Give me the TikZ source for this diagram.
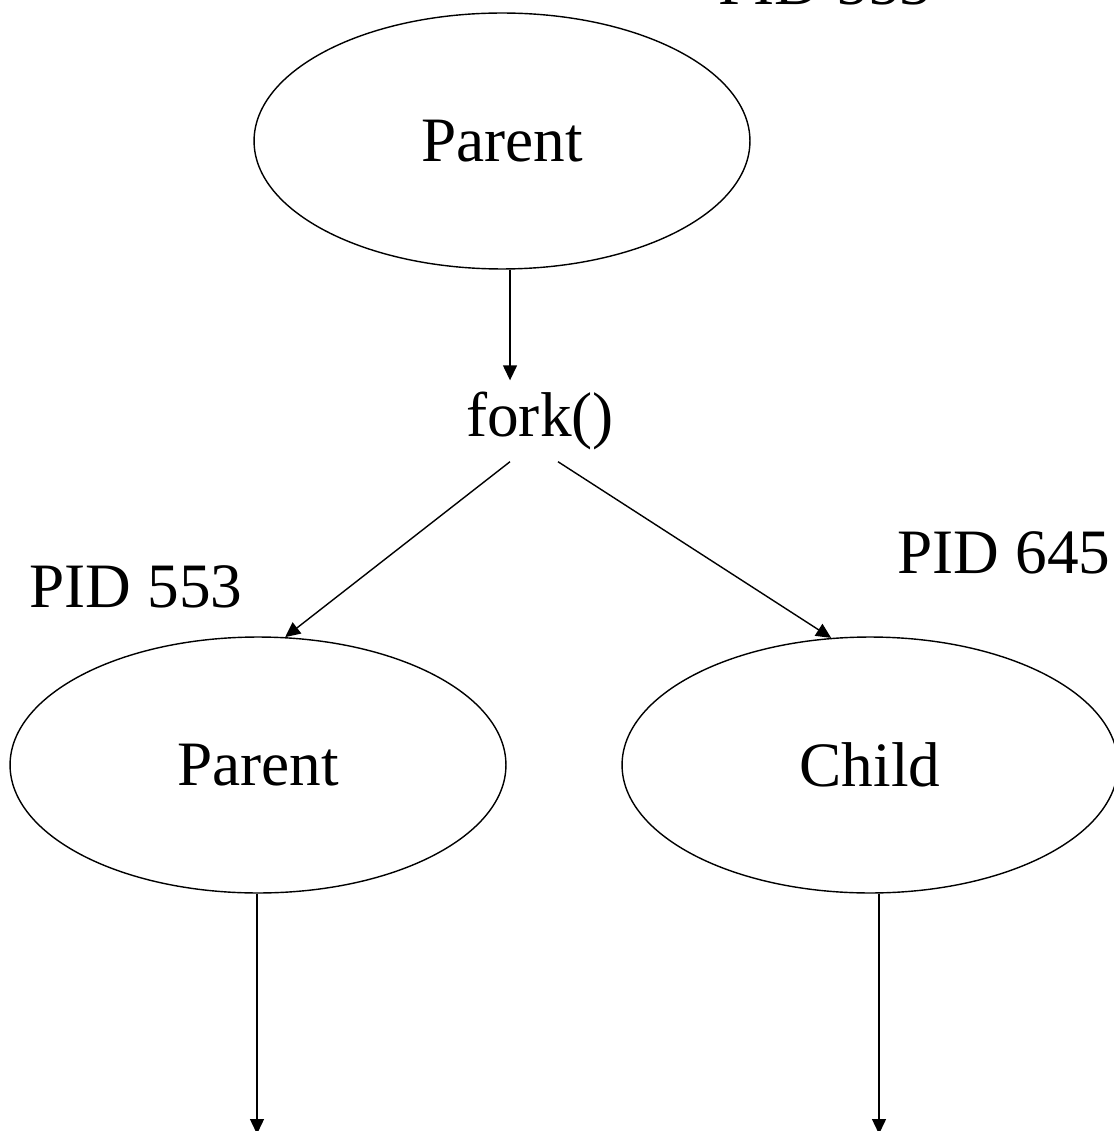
\documentclass[tikz,border=0pt]{standalone}
\usepackage{fontspec}
\setmainfont{Liberation Serif}
\usetikzlibrary{
  arrows.meta,
  calc,
  shapes.geometric,
  positioning}
\tikzset{
  proc/.style={%
    shape=ellipse,
    draw=black,
    % All three processes have the same size.
    minimum width=9.92cm,
    minimum height=5.12cm,
    inner sep=0pt
  },
  call/.style={%
    inner sep=0.22cm
  },
  pid/.style={%
    inner sep=0pt
  },
  arrowR/.style={%
    -{Triangle[length=3mm,width=2.8mm]}
  }%
}

\begin{document}
\begin{tikzpicture}[x=0.02cm,y=-0.02cm,line width=0.8pt,
    font=\fontsize{36}{42}\selectfont]
\useasboundingbox (0,0) rectangle (1113,1131);

% Process that makes the call.
\node[proc] (parentTop) at (502,141) {Parent};
\node[pid] (pidTop) at (825,-16) {PID 553};
\node[call] (fork) at (540,421) {fork()};

% The two processes after the call.
\node[proc] (parentLeft) at (258,765) {Parent};
\node[proc] (child) at (870,765) {Child};
\node[pid] (pidLeft) at (136,587) {PID 553};
\node[pid] (pidChild) at (1004,553) {PID 645};

% Both keep running below the picture.
\coordinate (parentEnd) at (257,1134);
\coordinate (childEnd) at (879,1134);

\draw[arrowR] ([xshift=-0.6cm]fork.north |- parentTop.south) -- ([xshift=-0.6cm]fork.north);
\draw[arrowR] ([xshift=-0.6cm]fork.south) -- (parentLeft.78);
\draw[arrowR] ([xshift=0.36cm]fork.south) -- (child.107);
\draw[arrowR] (parentLeft.south -| parentEnd) -- (parentEnd);
\draw[arrowR] (child.south -| childEnd) -- (childEnd);

\end{tikzpicture}
\end{document}
